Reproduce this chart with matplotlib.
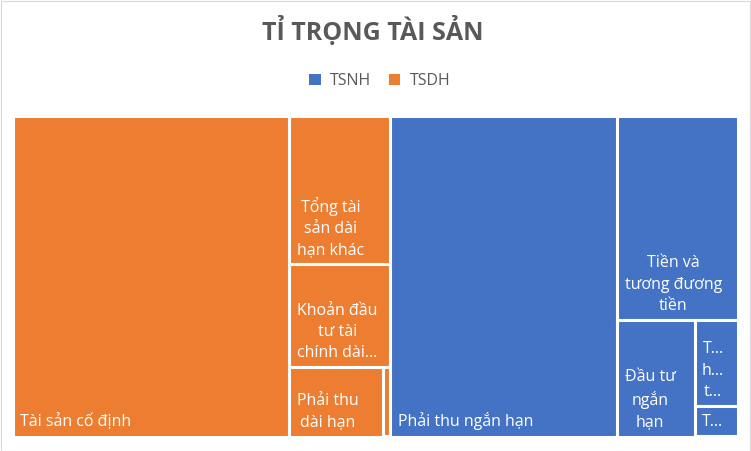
import matplotlib
matplotlib.use("Agg")
import matplotlib.pyplot as plt
from matplotlib.patches import Rectangle, Patch

plt.rcParams['font.family'] = ['Open Sans', 'DejaVu Sans']

# data (percent of total assets)
groups = ["TSDH", "TSNH"]
group_colors = {"TSNH": "#4472C4", "TSDH": "#ED7D31"}

tsdh_names = ["Tài sản cố định", "Tổng tài sản dài hạn khác",
              "Khoản đầu tư tài chính dài hạn", "Phải thu dài hạn",
              "Tài sản dở dang dài hạn"]
tsdh_labels = ["Tài sản cố định", "Tổng tài\nsản dài\nhạn khác",
               "Khoản đầu\ntư tài\nchính dài...", "Phải thu\ndài hạn", ""]
tsdh_values = [38.2, 6.45, 4.46, 2.79, 0.2]

tsnh_names = ["Phải thu ngắn hạn", "Tiền và tương đương tiền",
              "Đầu tư ngắn hạn", "Tài sản ngắn hạn khác", "Tồn kho"]
tsnh_labels = ["Phải thu ngắn hạn", "Tiền và\ntương đương\ntiền",
               "Đầu tư\nngắn\nhạn", "T...\nh...\nt...", "T..."]
tsnh_values = [31.28, 10.59, 3.88, 1.59, 0.56]

W, H = 725.0, 321.0


def worst(row, side):
    s = sum(row)
    return max(max(side * side * r / (s * s), s * s / (side * side * r)) for r in row)


def squarify(vals, x, y, w, h):
    total = sum(vals)
    vals = [v * w * h / total for v in vals]
    rects = []
    i = 0
    while i < len(vals):
        side = min(w, h)
        row = [vals[i]]
        j = i + 1
        while j < len(vals) and worst(row + [vals[j]], side) <= worst(row, side):
            row.append(vals[j])
            j += 1
        s = sum(row)
        if w >= h:
            cw = s / h
            yy = y
            for v in row:
                rects.append((x, yy, cw, v / cw))
                yy += v / cw
            x += cw
            w -= cw
        else:
            rh = s / w
            xx = x
            for v in row:
                rects.append((xx, y, v / rh, rh))
                xx += v / rh
            y += rh
            h -= rh
        i = j
    return rects


fig = plt.figure(figsize=(7.51, 4.51), dpi=100)
fig.patch.set_facecolor("white")
fig.add_artist(Rectangle((0.001, 0.001), 0.998, 0.997, transform=fig.transFigure,
                         fill=False, edgecolor="#D9D9D9", lw=0.8))

ax = fig.add_axes([12.5 / 751, (451 - 436.5) / 451, W / 751, H / 451])
ax.set_xlim(0, W)
ax.set_ylim(H, 0)
ax.axis("off")

group_data = {"TSDH": (tsdh_values, tsdh_labels), "TSNH": (tsnh_values, tsnh_labels)}
group_rects = squarify([sum(group_data[g][0]) for g in groups], 0, 0, W, H)

for g, (gx, gy, gw, gh) in zip(groups, group_rects):
    vals, labs = group_data[g]
    for (x, y, w, h), lab in zip(squarify(vals, gx, gy, gw, gh), labs):
        ax.add_patch(Rectangle((x, y), w, h, facecolor=group_colors[g],
                               edgecolor="white", lw=2.2, clip_on=False))
        if lab:
            ax.text(x + 7.5, y + h - 10, lab, color="white", fontsize=11.5,
                    ha="left", va="baseline", multialignment="center",
                    linespacing=1.45)

fig.text(373 / 751, 1 - 40 / 451, "TỈ TRỌNG TÀI SẢN", ha="center", va="baseline",
         fontsize=18, fontweight="bold", color="#595959")

handles = [Patch(facecolor=group_colors["TSNH"]), Patch(facecolor=group_colors["TSDH"])]
fig.legend(handles, ["TSNH", "TSDH"], loc="center", bbox_to_anchor=(380 / 751, 1 - 81 / 451),
           ncol=2, frameon=False, fontsize=11.5, handlelength=0.7, handleheight=0.7,
           handletextpad=0.6, columnspacing=1.1, labelcolor="#595959")

fig.savefig("out.png", dpi=100)
